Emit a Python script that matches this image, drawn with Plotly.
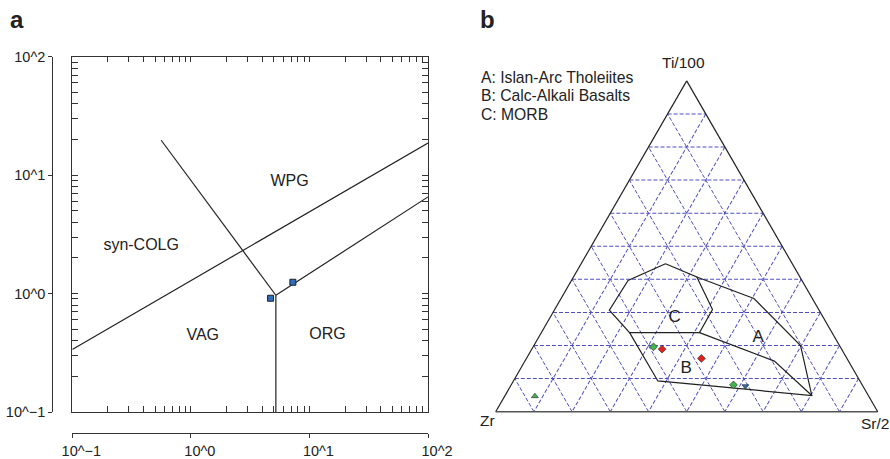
import plotly.graph_objects as go

W, H = 890, 459
FONT = "Liberation Sans, Arial, Helvetica, sans-serif"
INK = "#222222"

# ---------------- Panel a data (log-log discrimination diagram) ----------------
bnd1_x = [0.1, 100.0]
bnd1_y = [0.337, 18.7]
bnd2_x = [0.562, 5.21]
bnd2_y = [19.7, 0.968]
bnd3_x = [5.21, 100.0]
bnd3_y = [0.968, 6.55]
bnd4_x = [5.21, 5.21]
bnd4_y = [0.968, 0.1]

sample_x = [4.70, 7.25]
sample_y = [0.913, 1.246]

field_names = ["WPG", "syn-COLG", "VAG", "ORG"]
field_x = [6.8, 0.381, 1.26, 14.2]
field_y = [8.71, 2.51, 0.436, 0.445]

major_vals = [0.1, 1, 10, 100]
major_text = ["10^\u22121", "10^0", "10^1", "10^2"]
minor_vals = [m * d for d in (0.1, 1, 10) for m in range(1, 10)] + [100]

# ---------------- Panel b data (Ti/100 - Zr - Sr/2 ternary, percent) ----------------
C_ti = [44.7, 40.7, 30.9, 23.9, 23.9, 30.7, 39.7, 44.7]
C_zr = [33.2, 27.0, 27.8, 34.7, 53.0, 54.9, 45.5, 33.2]
C_sr = [22.1, 32.3, 41.3, 41.4, 23.1, 14.4, 14.8, 22.1]

outer_ti = [23.9, 9.3, 4.9, 20.0, 34.2, 40.7]
outer_zr = [53.0, 52.9, 14.8, 10.2, 15.3, 27.0]
outer_sr = [23.1, 37.8, 80.3, 69.8, 50.5, 32.3]

ab_ti = [23.9, 15.3, 4.9]
ab_zr = [34.7, 19.4, 14.8]
ab_sr = [41.4, 65.3, 80.3]

gd_ti = [19.6, 8.1]
gd_zr = [48.9, 33.7]
gd_sr = [31.5, 58.2]

rd_ti = [18.9, 16.1]
rd_zr = [47.0, 38.1]
rd_sr = [34.1, 45.8]

bt_ti = [7.7]
bt_zr = [30.8]
bt_sr = [61.5]

gt_ti = [4.7]
gt_zr = [87.4]
gt_sr = [7.9]

lab_names = ["C", "A", "B"]
lab_ti = [28.3, 22.4, 12.9]
lab_zr = [39.0, 20.1, 43.7]
lab_sr = [32.7, 57.5, 43.4]

legend_lines = ["A: Islan-Arc Tholeiites", "B: Calc-Alkali Basalts", "C: MORB"]
vertex_names = ["Ti/100", "Zr", "Sr/2"]

fig = go.Figure()

line_style = dict(color=INK, width=1.2)
for bx, by in [(bnd1_x, bnd1_y), (bnd2_x, bnd2_y), (bnd3_x, bnd3_y), (bnd4_x, bnd4_y)]:
    fig.add_trace(go.Scatter(x=bx, y=by, mode="lines", line=line_style,
                             xaxis="x", yaxis="y", showlegend=False, hoverinfo="skip"))

fig.add_trace(go.Scatter(x=field_x, y=field_y, mode="text", text=field_names,
                         textfont=dict(family=FONT, size=16, color=INK),
                         xaxis="x", yaxis="y", showlegend=False, hoverinfo="skip"))

fig.add_trace(go.Scatter(x=sample_x, y=sample_y, mode="markers",
                         marker=dict(symbol="square", size=6, color="#2f6db6",
                                     line=dict(color="#1b2233", width=1)),
                         xaxis="x2", yaxis="y2", showlegend=False))

# ternary traces
for ti, zr, sr in [(C_ti, C_zr, C_sr), (outer_ti, outer_zr, outer_sr), (ab_ti, ab_zr, ab_sr)]:
    fig.add_trace(go.Scatterternary(a=ti, b=zr, c=sr, mode="lines", line=line_style,
                                    subplot="ternary", showlegend=False, hoverinfo="skip"))

mk_line = dict(color="#333333", width=0.7)
fig.add_trace(go.Scatterternary(a=gd_ti, b=gd_zr, c=gd_sr, mode="markers",
                                marker=dict(symbol="diamond", size=6, color="#3fb54a", line=mk_line),
                                subplot="ternary", showlegend=False))
fig.add_trace(go.Scatterternary(a=rd_ti, b=rd_zr, c=rd_sr, mode="markers",
                                marker=dict(symbol="diamond", size=6, color="#e3201b", line=mk_line),
                                subplot="ternary", showlegend=False))
fig.add_trace(go.Scatterternary(a=bt_ti, b=bt_zr, c=bt_sr, mode="markers",
                                marker=dict(symbol="triangle-down", size=6, color="#2b6cb0", line=mk_line),
                                subplot="ternary", showlegend=False))
fig.add_trace(go.Scatterternary(a=gt_ti, b=gt_zr, c=gt_sr, mode="markers",
                                marker=dict(symbol="triangle-up", size=6, color="#3fb54a", line=mk_line),
                                subplot="ternary", showlegend=False))
fig.add_trace(go.Scatterternary(a=lab_ti, b=lab_zr, c=lab_sr, mode="text", text=lab_names,
                                textfont=dict(family=FONT, size=17, color=INK),
                                subplot="ternary", showlegend=False, hoverinfo="skip"))


def px_x(p):
    return p / W


def px_y(p):
    return 1 - p / H


xdom = [px_x(72.3), px_x(428.0)]
ydom = [px_y(412.0), px_y(56.7)]

frame_axis = dict(type="log", range=[-1, 2], showline=True, linecolor="#333333", linewidth=1.2,
                  mirror="allticks", ticks="inside", ticklen=5.5, tickwidth=1, tickcolor="#333333",
                  tickmode="array", tickvals=minor_vals, showticklabels=False,
                  showgrid=False, zeroline=False, fixedrange=True, automargin=False)

lab_axis = dict(type="log", range=[-1, 2], showline=True, linecolor="#333333", linewidth=1.2,
                ticks="outside", ticklen=4, tickwidth=1, tickcolor="#333333",
                tickmode="array", tickvals=major_vals, ticktext=major_text,
                tickfont=dict(family=FONT, size=14.5, color=INK),
                showgrid=False, zeroline=False, fixedrange=True, anchor="free", automargin=False)

grid_blue = "#4f4fc2"
tern_axis = dict(min=0, tickmode="linear", tick0=0, dtick=10, showgrid=True,
                 gridcolor=grid_blue, gridwidth=1, griddash="4px,2px",
                 showticklabels=False, ticks="", showline=True, linecolor=INK, linewidth=1.2,
                 title=dict(text=""))

Wt = 382.0
cx = 686.7
base_y = 411.7
ht = Wt * 3 ** 0.5 / 2
cy = base_y - ht / 2

fig.update_layout(
    template="none",
    width=W, height=H, margin=dict(l=0, r=0, t=0, b=0, autoexpand=False),
    paper_bgcolor="white", plot_bgcolor="white",
    font=dict(family=FONT, color=INK),
    xaxis=dict(domain=xdom, anchor="y", **frame_axis),
    yaxis=dict(domain=ydom, anchor="x", **frame_axis),
    xaxis2=dict(domain=xdom, overlaying="x", side="bottom", position=px_y(433.3),
                ticklabelshift=9, **lab_axis),
    yaxis2=dict(domain=ydom, overlaying="y", side="left", position=px_x(52.3), **lab_axis),
    ternary=dict(
        domain=dict(x=[px_x(cx - Wt / 2), px_x(cx + Wt / 2)],
                    y=[px_y(cy + ht / 2 + 2), px_y(cy - ht / 2 - 2)]),
        sum=100, bgcolor="white",
        aaxis=tern_axis,
        baxis={**tern_axis, "linecolor": "#555555", "linewidth": 1.6},
        caxis=tern_axis,
    ),
    showlegend=False,
)

# ternary vertex labels
for name, vx, vy in zip(vertex_names, [683.5, 487.0, 874.5], [63.0, 420.0, 423.0]):
    fig.add_annotation(x=px_x(vx), y=px_y(vy), xref="paper", yref="paper", text=name,
                       showarrow=False, xanchor="center", yanchor="middle",
                       font=dict(family=FONT, size=15.5, color=INK))

# panel letters
for letter, lx in [("a", 17), ("b", 487)]:
    fig.add_annotation(x=px_x(lx), y=px_y(19), xref="paper", yref="paper", text="<b>%s</b>" % letter,
                       showarrow=False, xanchor="center", yanchor="middle",
                       font=dict(family=FONT, size=24, color=INK))

# legend text for fields
for i, t in enumerate(legend_lines):
    fig.add_annotation(x=px_x(479), y=px_y(77.3 + 18.5 * i), xref="paper", yref="paper", text=t,
                       showarrow=False, xanchor="left", yanchor="middle",
                       font=dict(family=FONT, size=15.7, color=INK))

fig.write_html("out.html")
